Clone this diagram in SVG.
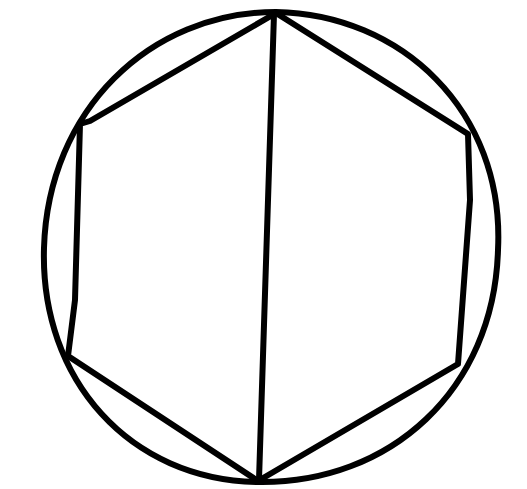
<svg xmlns="http://www.w3.org/2000/svg" width="527" height="489" viewBox="0 0 527 489">
<style>
.l{fill:none;stroke:#000;stroke-width:6;stroke-linecap:round;stroke-linejoin:round}
</style>
<rect width="527" height="489" fill="#fff"/>
<g id="circle"><path class="l" d="M276,12 C400,14 505,110 498,250 C494,390 390,484 258,482 C130,480 40,380 44,248 C48,110 150,12 276,12 Z"/></g>
<g id="hexagon"><path class="l" d="M276,13 L90,121 L80,124 L75,300 L68,356 L258,481 L458,364 L470,200 L468,134 Z"/></g>
<g id="connectors"><path class="l" d="M274,14 L259,480"/></g>
</svg>
